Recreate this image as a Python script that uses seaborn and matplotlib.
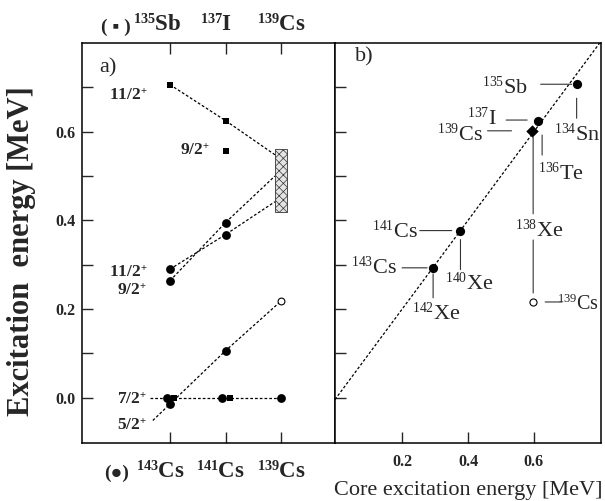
import matplotlib
matplotlib.use('Agg')
import matplotlib.pyplot as plt
import matplotlib.transforms as mtransforms
from matplotlib.patches import Rectangle
import seaborn as sns

try:
    import matplotlib._mathtext as _mt
    _mt.SHRINK_FACTOR = 0.62
except Exception:
    pass

# ---------------- data ----------------
# panel a) : positions 0,1,2 = 143Cs / 141Cs / 139Cs  (and 135Sb / 137I / 139Cs on top)
bottom_masses = ['143', '141', '139']
bottom_elements = ['Cs', 'Cs', 'Cs']
top_masses = ['135', '137', '139']
top_elements = ['Sb', 'I', 'Cs']

sq_11 = [0.706, 0.625]          # 11/2+ in 135Sb, 137I (squares)
sq_9_I = [0.557]                # 9/2+ in 137I (square)
sq_72 = [0.0, 0.0]              # 7/2+ ground states 135Sb, 137I (squares)
cs_11 = [0.290, 0.368]          # 11/2+ in 143Cs, 141Cs (circles)
cs_9 = [0.264, 0.395]           # 9/2+ in 143Cs, 141Cs (circles)
cs_72 = [0.0, 0.0, 0.0]         # 7/2+ in 143Cs, 141Cs, 139Cs
cs_52 = [-0.014, 0.106]         # 5/2+ in 143Cs, 141Cs
cs139_52 = [0.218]              # 5/2+ in 139Cs (open circle)
box_range = [0.419, 0.562]      # 139Cs band
box_join = [0.548, 0.500, 0.442]  # levels where the 11/2(Sb,I), 9/2(Cs), 11/2(Cs) lines meet the band

a_yticks = [0.0, 0.1, 0.2, 0.3, 0.4, 0.5, 0.6, 0.7]
a_yticklabels = ['0.0', '', '0.2', '', '0.4', '', '0.6', '']

# panel b)
b_mass = ['135', '137', '139', '141', '143', '139']
b_elem = ['Sb', 'I', 'Cs', 'Cs', 'Cs', 'Cs']
b_core = [0.730, 0.613, 0.593, 0.375, 0.294, 0.598]
b_exc = [0.707, 0.624, 0.602, 0.377, 0.293, 0.216]
core_mass = ['134', '136', '138', '140', '142']
core_elem = ['Sn', 'Te', 'Xe', 'Xe', 'Xe']
b_xticks = [0.2, 0.4, 0.6]
b_xticklabels = ['0.2', '0.4', '0.6']

# ---------------- style ----------------
sns.set_style('ticks')
plt.rcParams['font.family'] = ['Liberation Serif', 'DejaVu Sans']
plt.rcParams['mathtext.fontset'] = 'custom'
plt.rcParams['mathtext.rm'] = 'Liberation Serif'
plt.rcParams['mathtext.it'] = 'Liberation Serif:italic'
plt.rcParams['mathtext.bf'] = 'Liberation Serif:bold'
plt.rcParams['axes.linewidth'] = 1.1
plt.rcParams['hatch.linewidth'] = 0.5

fig = plt.figure(figsize=(6.05, 5.01), dpi=100)
axa = fig.add_axes([82 / 605, 58 / 501, 253 / 605, 400 / 501])
axb = fig.add_axes([335 / 605, 58 / 501, 266 / 605, 400 / 501])

DOT = (0, (2.2, 1.6))
K = 'black'

# ---------------- panel a ----------------
axa.set_xlim(-1.586, 2.973)
axa.set_ylim(-0.102, 0.80)

bw = 0.11
axa.add_patch(Rectangle((2 - bw, box_range[0]), 2 * bw, box_range[1] - box_range[0],
                        facecolor='#e4e4e4', edgecolor='#333333', hatch='xxxx', lw=0.6, zorder=2))

# dotted connection lines
axa.plot([0, 1, 2 - bw], sq_11 + [box_join[0]], ls=DOT, lw=0.9, color=K, zorder=1)
axa.plot([0, 1, 2 - bw], cs_9 + [box_join[1]], ls=DOT, lw=0.9, color=K, zorder=1)
axa.plot([0, 1, 2 - bw], cs_11 + [box_join[2]], ls=DOT, lw=0.9, color=K, zorder=1)
axa.plot([-0.36, 0, 1, 2], [cs_72[0]] + cs_72, ls=DOT, lw=0.9, color=K, zorder=1)
slope = cs_52[1] - cs_52[0]
axa.plot([-0.31, 0, 1, 2], [cs_52[0] - 0.31 * slope] + cs_52 + cs139_52, ls=DOT, lw=0.9, color=K, zorder=1)

# markers
sns.scatterplot(x=[0, 1], y=sq_11, marker='s', s=22, color=K, edgecolor=K, linewidth=0, ax=axa, zorder=3)
sns.scatterplot(x=[1], y=sq_9_I, marker='s', s=22, color=K, edgecolor=K, linewidth=0, ax=axa, zorder=3)
sns.scatterplot(x=[0.08, 1.08], y=sq_72, marker='s', s=22, color=K, edgecolor=K, linewidth=0, ax=axa, zorder=3)
sns.scatterplot(x=[0, 1], y=cs_11, marker='o', s=40, color=K, edgecolor=K, linewidth=0, ax=axa, zorder=3)
sns.scatterplot(x=[0, 1], y=cs_9, marker='o', s=40, color=K, edgecolor=K, linewidth=0, ax=axa, zorder=3)
sns.scatterplot(x=[-0.06, 0.94, 2], y=cs_72, marker='o', s=40, color=K, edgecolor=K, linewidth=0, ax=axa, zorder=3)
sns.scatterplot(x=[0, 1], y=cs_52, marker='o', s=40, color=K, edgecolor=K, linewidth=0, ax=axa, zorder=3)
sns.scatterplot(x=[2], y=cs139_52, marker='o', s=24, color='white', edgecolor=K, linewidth=0.8, ax=axa, zorder=3)

# spin labels (dx, dy in pixels, dy downward)
spin_labels = [
    (r'11/2$^{\mathbf{+}}$', 0, sq_11[0], -23, 15.7),
    (r'9/2$^{\mathbf{+}}$', 1, sq_9_I[0], -16, 4.3),
    (r'11/2$^{\mathbf{+}}$', 0, cs_11[0], -23, 8),
    (r'9/2$^{\mathbf{+}}$', 0, cs_9[0], -23, 14),
    (r'7/2$^{\mathbf{+}}$', 0, cs_72[0], -23, 6),
    (r'5/2$^{\mathbf{+}}$', 0, cs_52[0], -23, 26),
]
for txt, x, y, dx, dy in spin_labels:
    axa.annotate(txt, xy=(x, y), xytext=(dx, -dy), textcoords='offset pixels',
                 ha='right', va='baseline', fontsize=12.5, fontweight='bold')

axa.set_xticks([0, 1, 2])
axa.set_xticklabels([])
axa.set_yticks(a_yticks)
axa.set_yticklabels(a_yticklabels)
axa.tick_params(axis='x', direction='in', top=True, bottom=True, length=8, width=1, labelbottom=False)
axa.tick_params(axis='y', direction='in', left=True, right=False, length=8, width=1, pad=5, labelsize=11.5)
for lab in axa.get_yticklabels():
    lab.set_fontweight('bold')

xt = axa.get_xaxis_transform()
top_dx = [-12.5, -9.5, 0.5]
for i, (m, e) in enumerate(zip(top_masses, top_elements)):
    axa.annotate(r'$^{\mathbf{%s}}$%s' % (m, e), xy=(i, 1.0), xycoords=xt,
                 xytext=(top_dx[i], 11.3), textcoords='offset pixels',
                 ha='center', va='baseline', fontsize=16.5, fontweight='bold', annotation_clip=False)
axa.annotate('( \u25aa )', xy=(0, 1.0), xycoords=xt, xytext=(-39, 11.3), textcoords='offset pixels',
             ha='right', va='baseline', fontsize=14, fontweight='bold', annotation_clip=False)

bot_dx = [-10, -5.5, 0]
for i, (m, e) in enumerate(zip(bottom_masses, bottom_elements)):
    axa.annotate(r'$^{\mathbf{%s}}$%s' % (m, e), xy=(i, 0.0), xycoords=xt,
                 xytext=(bot_dx[i], -35), textcoords='offset pixels',
                 ha='center', va='baseline', fontsize=16.5, fontweight='bold', annotation_clip=False)
axa.annotate('(\u25cf)', xy=(0, 0.0), xycoords=xt, xytext=(-41, -35), textcoords='offset pixels',
             ha='right', va='baseline', fontsize=14, fontweight='bold', annotation_clip=False)

axa.text(0.067, 0.9375, 'a)', transform=axa.transAxes, ha='left', va='center', fontsize=16)

# ---------------- panel b ----------------
axb.set_xlim(-0.004, 0.804)
axb.set_ylim(-0.102, 0.80)
axb.axline((0, 0), slope=1, ls=DOT, lw=0.9, color=K, zorder=1)

filled_idx = [0, 1, 3, 4]
sns.scatterplot(x=[b_core[i] for i in filled_idx], y=[b_exc[i] for i in filled_idx], marker='o', s=44,
                color=K, edgecolor=K, linewidth=0, ax=axb, zorder=3)
sns.scatterplot(x=[b_core[2]], y=[b_exc[2]], marker='D', s=40, color=K, edgecolor=K, linewidth=0, ax=axb, zorder=3)
sns.scatterplot(x=[b_core[5]], y=[b_exc[5]], marker='o', s=26, color='white', edgecolor=K, linewidth=0.8,
                ax=axb, zorder=3)


def connector(ax, x, y, p1, p2):
    t1 = mtransforms.offset_copy(ax.transData, fig=fig, x=p1[0], y=-p1[1], units='dots')
    t2 = mtransforms.offset_copy(ax.transData, fig=fig, x=p2[0], y=-p2[1], units='dots')
    ax.annotate('', xy=(x, y), xycoords=t1, xytext=(x, y), textcoords=t2,
                arrowprops=dict(arrowstyle='-', lw=0.8, color='#333333', shrinkA=0, shrinkB=0))


def label(ax, x, y, txt, d, ha, size=16):
    ax.annotate(txt, xy=(x, y), xytext=(d[0], -d[1]), textcoords='offset pixels',
                ha=ha, va='baseline', fontsize=size)


# nucleus labels: (index, connector p1, p2, text offset, ha, size)
nuc_layout = [
    (0, (-5, 0), (-36, 0), (-49, 9), 'right', 16),
    (1, (-11, -1), (-32, -1), (-41, 4), 'right', 16),
    (2, (-20, 0), (-44, 0), (-49, 10), 'right', 16),
    (3, (-8, 0), (-40, 0), (-42, 7), 'right', 16),
    (4, (-6, 0), (-31, 0), (-36, 6), 'right', 16),
    (5, (12, 0), (29, 0), (66, 8), 'right', 14.5),
]
for i, p1, p2, d, ha, size in nuc_layout:
    connector(axb, b_core[i], b_exc[i], p1, p2)
    label(axb, b_core[i], b_exc[i], r'$^{%s}$%s' % (b_mass[i], b_elem[i]), d, ha, size)

# core labels: (core index, point index, connector p1, p2, text offset, ha)
core_layout = [
    (0, 0, (0, 14), (0, 34), (1, 56), 'center'),
    (1, 1, (4, 14), (4, 34), (0, 59), 'left'),
    (2, 2, (1.6, 6), (1.6, 83), (-17, 106), 'left'),
    (3, 3, (0.7, 9), (0.7, 39), (-15, 59), 'left'),
    (4, 4, (0, 6), (0, 30), (-21, 52), 'left'),
]
for c, i, p1, p2, d, ha in core_layout:
    connector(axb, b_core[i], b_exc[i], p1, p2)
    label(axb, b_core[i], b_exc[i], r'$^{%s}$%s' % (core_mass[c], core_elem[c]), d, ha)
# link from 138Xe label down to the open 139Cs point
connector(axb, b_core[5], b_exc[5], (0, -9), (0, -62))

axb.set_xticks(b_xticks)
axb.set_xticklabels(b_xticklabels)
axb.set_yticks(a_yticks)
axb.set_yticklabels([])
axb.tick_params(axis='x', direction='in', bottom=True, top=False, length=8, width=1, pad=8, labelsize=11.5)
axb.tick_params(axis='y', direction='in', left=True, right=False, length=8, width=1, labelleft=False)
for lab in axb.get_xticklabels():
    lab.set_fontweight('bold')
axb.text(0.5, -0.1175, 'Core excitation energy [MeV]', transform=axb.transAxes,
         ha='center', va='center', fontsize=16)
axb.text(0.075, 0.965, 'b)', transform=axb.transAxes, ha='left', va='center', fontsize=16)

for ax in (axa, axb):
    for sp in ax.spines.values():
        sp.set_visible(True)
        sp.set_linewidth(1.1)
        sp.set_color(K)

fig.text(22 / 605, 1 - 251 / 501, 'Excitation  energy [MeV]', rotation=90, ha='center', va='center',
         fontsize=22, fontweight='bold')

fig.savefig('out.png', dpi=100)
